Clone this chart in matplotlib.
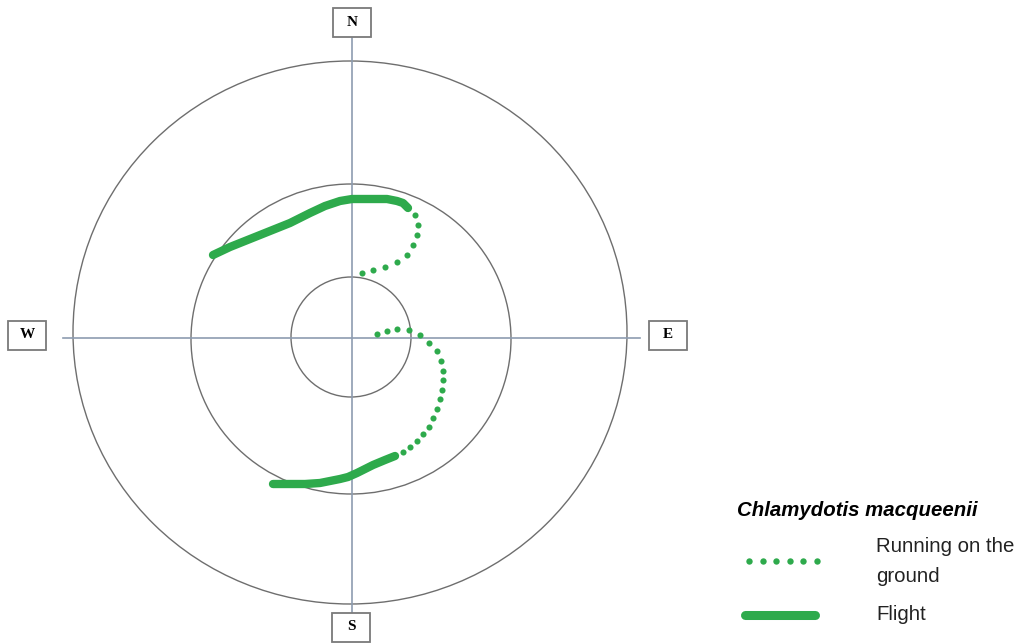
import numpy as np
import matplotlib
matplotlib.use('Agg')
import matplotlib.pyplot as plt
from matplotlib.patches import Ellipse, Rectangle
from matplotlib.lines import Line2D

# track positions, east/north offsets from the release point (in px-like units)
flight_n_x = [-139, -122, -102, -82, -62, -42, -27, -12, 0, 18, 35, 45, 51, 56]
flight_n_y = [82, 90, 98, 106, 114, 124, 131, 136, 138, 138, 138, 136, 134, 129]
run_n_x = [63, 66, 65, 61, 55, 45, 33, 21, 10]
run_n_y = [122, 112, 102, 92, 82, 75, 70, 67, 64]

run_s_x = [25, 35, 45, 57, 68, 77, 85, 89, 91, 91, 90, 88, 85, 81, 77, 71, 65, 58, 51]
run_s_y = [3, 6, 8, 7, 2, -6, -14, -24, -34, -43, -53, -62, -72, -81, -90, -97, -104, -110, -115]
flight_s_x = [43, 33, 21, 13, 5, -4, -12, -22, -32, -47, -59, -79]
flight_s_y = [-119, -123, -128, -132, -136, -140, -142, -144, -146, -147, -147, -147]

# rings are hand drawn, so slightly off-round
ring_cx = [-1, -1, -2]
ring_cy = [0, -2, 4.5]
ring_w = [120, 320, 554]
ring_h = [120, 310, 543]
compass = ['N', 'E', 'S', 'W']

GREEN = '#2eaa4c'
RING = '#6e6e6e'
AXIS = '#8d9cb0'

fig = plt.figure(figsize=(10.24, 6.43), dpi=100)
ax = fig.add_axes([0, 0, 1, 1])
ax.set_xlim(-352, 1024 - 352)
ax.set_ylim(337 - 643, 337)
ax.axis('off')

for cx, cy, w, h in zip(ring_cx, ring_cy, ring_w, ring_h):
    ax.add_patch(Ellipse((cx, cy), w, h, fill=False, ec=RING, lw=1.0))

ax.plot([0, 0], [-276, 299], color=AXIS, lw=1.2)
ax.plot([-289, 288], [-1, -1], color=AXIS, lw=1.2)

box_pos = {'N': (0, 315), 'E': (316, 2), 'S': (-1, -290), 'W': (-325, 2)}
bw, bh = 38, 29
for c in compass:
    bx, by = box_pos[c]
    ax.add_patch(Rectangle((bx - bw / 2, by - bh / 2), bw, bh, fc='white',
                           ec='#7a7a7a', lw=1.3, zorder=3))
    ax.text(bx, by, c, ha='center', va='center', fontsize=11, fontweight='bold',
            family='Liberation Serif', zorder=4)

ax.plot(flight_n_x, flight_n_y, color=GREEN, lw=6, solid_capstyle='round',
        solid_joinstyle='round')
ax.plot(flight_s_x, flight_s_y, color=GREEN, lw=6, solid_capstyle='round',
        solid_joinstyle='round')
ax.plot(run_n_x, run_n_y, 'o', color=GREEN, ms=4.4, mew=0)
ax.plot(run_s_x, run_s_y, 'o', color=GREEN, ms=4.4, mew=0)

# legend, placed by hand in figure pixels
W, H = 1024, 643
fig.text(737 / W, 1 - 511 / H, 'Chlamydotis macqueenii', fontsize=14.7,
         fontweight='bold', style='italic', family='Liberation Sans', va='center')
fig.add_artist(Line2D(np.linspace(749, 817, 6) / W, [1 - 561 / H] * 6, ls='none',
                      marker='o', color=GREEN, ms=4.6, mew=0))
fig.add_artist(Line2D([745 / W, 815 / W], [1 - 615 / H] * 2, color=GREEN, lw=6.5,
                      solid_capstyle='round'))
fig.text(876 / W, 1 - 547 / H, 'Running on the', fontsize=14.7,
         family='Liberation Sans', va='center', color='#222222')
fig.text(876 / W, 1 - 577 / H, 'ground', fontsize=14.7,
         family='Liberation Sans', va='center', color='#222222')
fig.text(876 / W, 1 - 615 / H, 'Flight', fontsize=14.7,
         family='Liberation Sans', va='center', color='#222222')

fig.savefig('out.png', dpi=100)
